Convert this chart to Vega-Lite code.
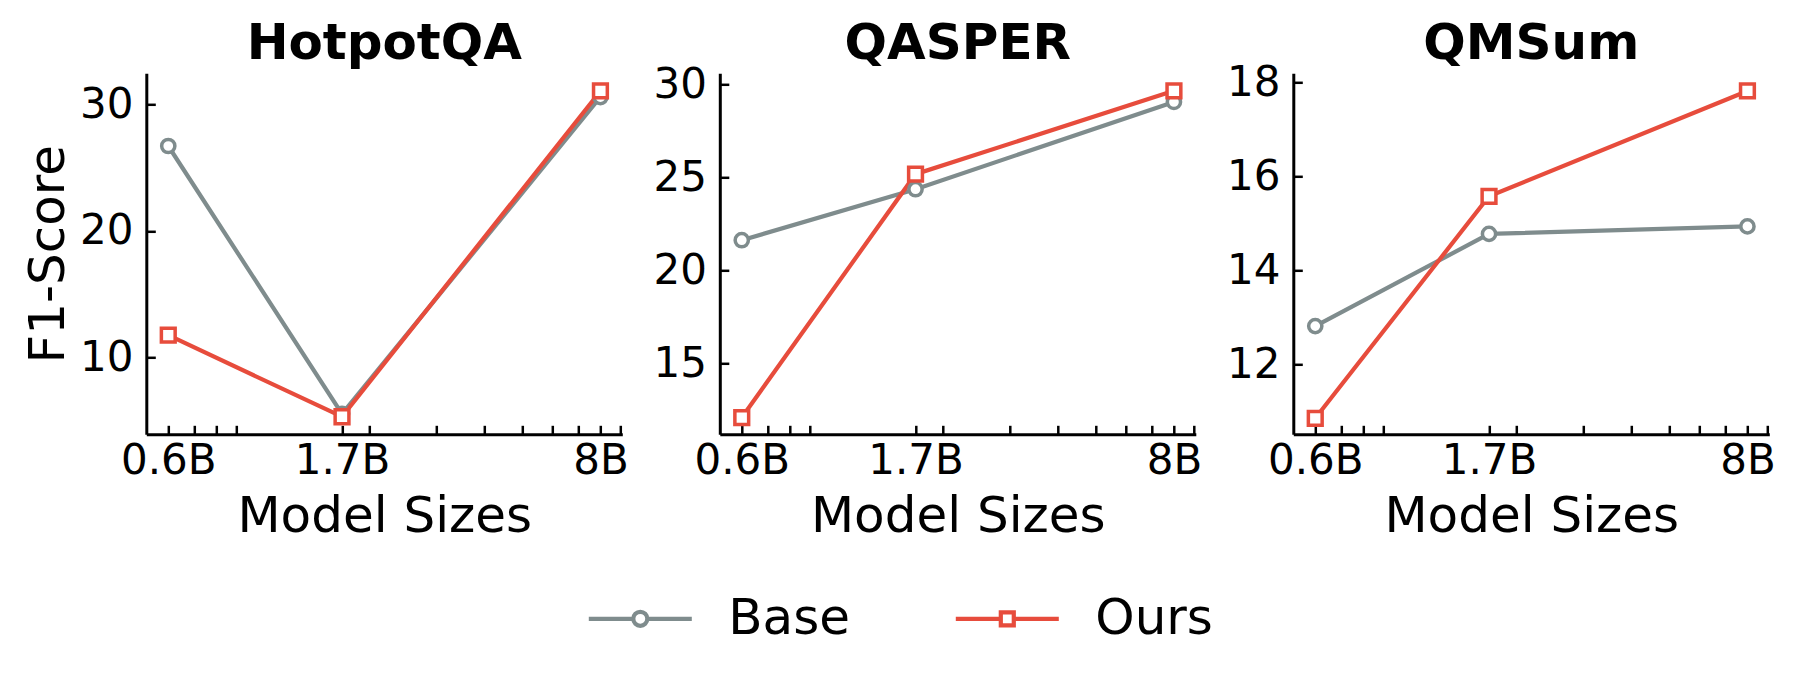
{
  "$schema": "https://vega.github.io/schema/vega-lite/v6.json",
  "background": "white",
  "padding": {"left": 23.3, "top": 18.3, "right": 5, "bottom": 5},
  "bounds": "flush",
  "spacing": 97.5,
  "config": {
    "view": {"stroke": null},
    "font": "DejaVu Sans",
    "axis": {
      "grid": false,
      "domainColor": "black",
      "domainWidth": 3,
      "tickColor": "black",
      "tickWidth": 2.5,
      "tickSize": -9,
      "labelColor": "black",
      "labelFont": "DejaVu Sans",
      "labelFontSize": 42,
      "titleColor": "black",
      "titleFont": "DejaVu Sans",
      "titleFontSize": 50,
      "titleFontWeight": "normal"
    },
    "axisX": {"labelPadding": 15.5, "titlePadding": 10, "labelOverlap": false, "labelFlush": false},
    "axisY": {"labelPadding": 22.3, "titlePadding": 6},
    "title": {"font": "DejaVu Sans", "fontSize": 50, "fontWeight": "bold", "color": "black"}
  },
  "data": {
    "values": [
      {"dataset": "HotpotQA", "series": "Base", "size": 0.6, "f1": 26.72},
      {"dataset": "HotpotQA", "series": "Base", "size": 1.7, "f1": 5.5},
      {"dataset": "HotpotQA", "series": "Base", "size": 8, "f1": 30.6},
      {"dataset": "HotpotQA", "series": "Ours", "size": 0.6, "f1": 11.73},
      {"dataset": "HotpotQA", "series": "Ours", "size": 1.7, "f1": 5.27},
      {"dataset": "HotpotQA", "series": "Ours", "size": 8, "f1": 31.08},
      {"dataset": "QASPER", "series": "Base", "size": 0.6, "f1": 21.63},
      {"dataset": "QASPER", "series": "Base", "size": 1.7, "f1": 24.37},
      {"dataset": "QASPER", "series": "Base", "size": 8, "f1": 29.06},
      {"dataset": "QASPER", "series": "Ours", "size": 0.6, "f1": 12.1},
      {"dataset": "QASPER", "series": "Ours", "size": 1.7, "f1": 25.18},
      {"dataset": "QASPER", "series": "Ours", "size": 8, "f1": 29.66},
      {"dataset": "QMSum", "series": "Base", "size": 0.6, "f1": 12.81},
      {"dataset": "QMSum", "series": "Base", "size": 1.7, "f1": 14.77},
      {"dataset": "QMSum", "series": "Base", "size": 8, "f1": 14.93},
      {"dataset": "QMSum", "series": "Ours", "size": 0.6, "f1": 10.85},
      {"dataset": "QMSum", "series": "Ours", "size": 1.7, "f1": 15.57},
      {"dataset": "QMSum", "series": "Ours", "size": 8, "f1": 17.81}
    ]
  },
  "hconcat": [
    {
      "width": 476,
      "height": 361,
      "title": {"text": "HotpotQA", "offset": 4.2},
      "transform": [{"filter": "datum.dataset === 'HotpotQA'"}],
      "encoding": {
        "x": {"field": "size", "type": "quantitative",
          "scale": {"type": "log", "domain": [0.526, 9.12], "nice": false},
          "axis": {"title": "Model Sizes", "values": [0.6, 0.7, 0.8, 0.9, 1.7, 2, 3, 4, 5, 6, 7, 8, 9],
            "labelExpr": "indexof([0.6, 1.7, 8], datum.value) >= 0 ? datum.value + 'B' : ''",
            "encode": {"ticks": {"update": {"y2": {"signal": "indexof([0.6, 1.7, 8], datum.value) >= 0 ? -9 : -4.5"}}}}}},
        "y": {"field": "f1", "type": "quantitative",
          "scale": {"domain": [3.88, 32.48], "nice": false, "zero": false},
          "axis": {"title": "F1-Score", "values": [10, 20, 30]}}
      },
      "layer": [
        {"mark": {"type": "line", "strokeWidth": 4.2},
          "encoding": {"color": {"field": "series", "type": "nominal",
            "scale": {"domain": ["Base", "Ours"], "range": ["#7f8c8d", "#e74c3c"]},
            "legend": {"orient": "none", "legendX": 440, "legendY": 491.5, "direction": "horizontal", "title": null,
              "padding": 0, "symbolSize": 10609, "symbolStrokeWidth": 4.2, "symbolFillColor": "white", "symbolOpacity": 1,
              "labelFont": "DejaVu Sans", "labelFontSize": 50, "labelColor": "black", "labelOffset": 34, "columnPadding": 97,
              "encode": {"symbols": {"update": {
                "shape": {"signal": "datum.value === 'Base' ? 'M-1,0H-0.136M0.136,0H1M0.136,0A0.136,0.136,0,1,1,-0.136,0A0.136,0.136,0,1,1,0.136,0Z' : 'M-1,0H-0.126M0.126,0H1M-0.126,-0.126H0.126V0.126H-0.126Z'"},
                "fill": {"value": "white"}}}}}}}},
        {"transform": [{"filter": "datum.series === 'Base'"}],
          "mark": {"type": "point", "shape": "circle", "filled": true, "fill": "white", "stroke": "#7f8c8d", "size": 175, "strokeWidth": 3.5, "opacity": 1}},
        {"transform": [{"filter": "datum.series === 'Ours'"}],
          "mark": {"type": "point", "shape": "square", "filled": true, "fill": "white", "stroke": "#e74c3c", "size": 190, "strokeWidth": 3.5, "opacity": 1}}
      ]
    },
    {
      "width": 476,
      "height": 361,
      "title": {"text": "QASPER", "offset": -5.5},
      "transform": [{"filter": "datum.dataset === 'QASPER'"}],
      "encoding": {
        "x": {"field": "size", "type": "quantitative",
          "scale": {"type": "log", "domain": [0.526, 9.12], "nice": false},
          "axis": {"title": "Model Sizes", "values": [0.6, 0.7, 0.8, 0.9, 1.7, 2, 3, 4, 5, 6, 7, 8, 9],
            "labelExpr": "indexof([0.6, 1.7, 8], datum.value) >= 0 ? datum.value + 'B' : ''",
            "encode": {"ticks": {"update": {"y2": {"signal": "indexof([0.6, 1.7, 8], datum.value) >= 0 ? -9 : -4.5"}}}}}},
        "y": {"field": "f1", "type": "quantitative",
          "scale": {"domain": [11.2, 30.6], "nice": false, "zero": false},
          "axis": {"title": null, "values": [15, 20, 25, 30]}}
      },
      "layer": [
        {"mark": {"type": "line", "strokeWidth": 4.2},
          "encoding": {"color": {"field": "series", "type": "nominal",
            "scale": {"domain": ["Base", "Ours"], "range": ["#7f8c8d", "#e74c3c"]}}}},
        {"transform": [{"filter": "datum.series === 'Base'"}],
          "mark": {"type": "point", "shape": "circle", "filled": true, "fill": "white", "stroke": "#7f8c8d", "size": 175, "strokeWidth": 3.5, "opacity": 1}},
        {"transform": [{"filter": "datum.series === 'Ours'"}],
          "mark": {"type": "point", "shape": "square", "filled": true, "fill": "white", "stroke": "#e74c3c", "size": 190, "strokeWidth": 3.5, "opacity": 1}}
      ]
    },
    {
      "width": 476,
      "height": 361,
      "title": {"text": "QMSum", "offset": -8.1},
      "transform": [{"filter": "datum.dataset === 'QMSum'"}],
      "encoding": {
        "x": {"field": "size", "type": "quantitative",
          "scale": {"type": "log", "domain": [0.526, 9.12], "nice": false},
          "axis": {"title": "Model Sizes", "values": [0.6, 0.7, 0.8, 0.9, 1.7, 2, 3, 4, 5, 6, 7, 8, 9],
            "labelExpr": "indexof([0.6, 1.7, 8], datum.value) >= 0 ? datum.value + 'B' : ''",
            "encode": {"ticks": {"update": {"y2": {"signal": "indexof([0.6, 1.7, 8], datum.value) >= 0 ? -9 : -4.5"}}}}}},
        "y": {"field": "f1", "type": "quantitative",
          "scale": {"domain": [10.51, 18.185], "nice": false, "zero": false},
          "axis": {"title": null, "values": [12, 14, 16, 18]}}
      },
      "layer": [
        {"mark": {"type": "line", "strokeWidth": 4.2},
          "encoding": {"color": {"field": "series", "type": "nominal",
            "scale": {"domain": ["Base", "Ours"], "range": ["#7f8c8d", "#e74c3c"]}}}},
        {"transform": [{"filter": "datum.series === 'Base'"}],
          "mark": {"type": "point", "shape": "circle", "filled": true, "fill": "white", "stroke": "#7f8c8d", "size": 175, "strokeWidth": 3.5, "opacity": 1}},
        {"transform": [{"filter": "datum.series === 'Ours'"}],
          "mark": {"type": "point", "shape": "square", "filled": true, "fill": "white", "stroke": "#e74c3c", "size": 190, "strokeWidth": 3.5, "opacity": 1}}
      ]
    }
  ]
}
